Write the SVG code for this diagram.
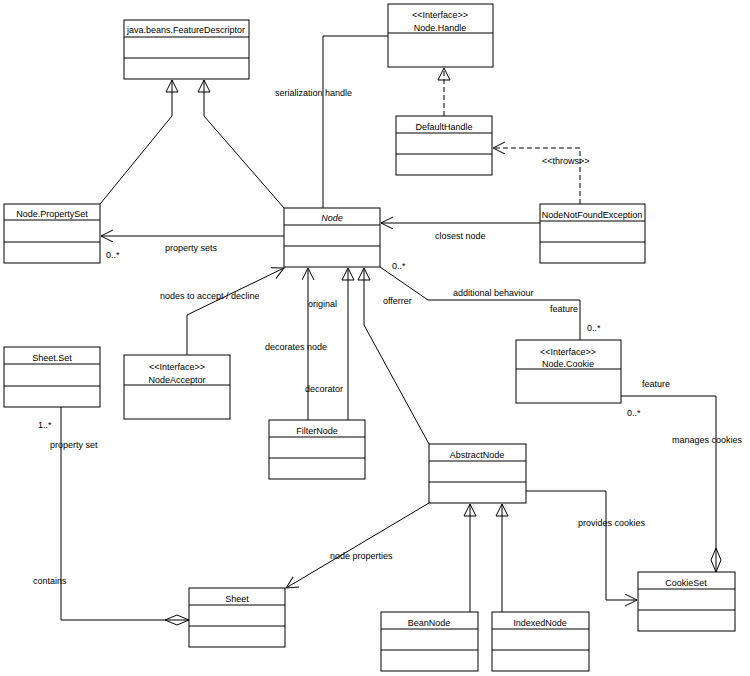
<svg xmlns="http://www.w3.org/2000/svg" width="750" height="676" viewBox="0 0 750 676">
<style>
rect{fill:#fff;stroke:#000;stroke-width:1}
line,path,polyline{fill:none;stroke:#000;stroke-width:1}
.d{stroke-dasharray:5,3}
.tri{fill:#fff;stroke:#000}
text{font-family:"Liberation Sans",Arial,sans-serif;font-size:9px;fill:#000}
.c{text-anchor:middle}
</style>
<defs>
<marker id="open" markerWidth="14" markerHeight="14" refX="12" refY="6" orient="auto" markerUnits="userSpaceOnUse"><path d="M0,0 L12,6 L0,12" fill="none" stroke="#000"/></marker>
<marker id="gen" markerWidth="16" markerHeight="16" refX="13" refY="7" orient="auto" markerUnits="userSpaceOnUse"><path d="M1,1 L13,7 L1,13 Z" fill="#fff" stroke="#000"/></marker>
<marker id="dia" markerWidth="26" markerHeight="12" refX="24" refY="6" orient="auto" markerUnits="userSpaceOnUse"><path d="M0,6 L12,1 L24,6 L12,11 Z" fill="#fff" stroke="#000"/></marker>
</defs>
<g id="connectors">
<polyline points="100,204 172,116 172,80" marker-end="url(#gen)"/>
<polyline points="284,208 204,116 204,80" marker-end="url(#gen)"/>
<line x1="284" y1="236" x2="101" y2="236" marker-end="url(#open)"/>
<polyline points="323,208 323,36 388,36"/>
<line class="d" x1="444" y1="116" x2="444" y2="68" marker-end="url(#gen)"/>
<polyline class="d" points="580,204 580,148 493,148" marker-end="url(#open)"/>
<line x1="540" y1="223" x2="381" y2="223" marker-end="url(#open)"/>
<polyline points="380,267 428,300 580,300 580,340"/>
<polyline points="187,355 187,315 284,268" marker-end="url(#open)"/>
<line x1="308" y1="420" x2="308" y2="268" marker-end="url(#open)"/>
<line x1="348" y1="420" x2="348" y2="268" marker-end="url(#gen)"/>
<polyline points="429,444 364,325 364,268" marker-end="url(#gen)"/>
<line x1="429" y1="503" x2="286" y2="588" marker-end="url(#open)"/>
<line x1="470" y1="612" x2="470" y2="504" marker-end="url(#gen)"/>
<line x1="502" y1="612" x2="502" y2="504" marker-end="url(#gen)"/>
<polyline points="526,491 606,491 606,600 637,600" marker-end="url(#open)"/>
<polyline points="621,396 716,396 716,572" marker-end="url(#dia)"/>
<polyline points="61,407 61,620 189,620" marker-end="url(#dia)"/>
</g>
<g id="labels">
<text x="165" y="251">property sets</text>
<text x="106" y="258">0..*</text>
<text x="275" y="96">serialization handle</text>
<text x="542" y="164">&lt;&lt;throws&gt;&gt;</text>
<text x="435" y="239">closest node</text>
<text x="392" y="269">0..*</text>
<text x="453" y="296">additional behaviour</text>
<text x="550" y="312">feature</text>
<text x="587" y="331">0..*</text>
<text x="383" y="304">offerrer</text>
<text x="160" y="299">nodes to accept / decline</text>
<text x="308" y="307">original</text>
<text x="265" y="350">decorates node</text>
<text x="305" y="392">decorator</text>
<text x="330" y="559">node properties</text>
<text x="578" y="526">provides cookies</text>
<text x="642" y="387">feature</text>
<text x="627" y="416">0..*</text>
<text x="672" y="443">manages cookies</text>
<text x="38" y="428">1..*</text>
<text x="50" y="448">property set</text>
<text x="33" y="584">contains</text>
</g>
<g id="FeatureDescriptor"><rect x="124" y="20" width="125" height="59"/><line x1="124" y1="37" x2="249" y2="37"/><line x1="124" y1="58" x2="249" y2="58"/><text class="c" x="186" y="33">java.beans.FeatureDescriptor</text></g>
<g id="PropertySet"><rect x="4" y="204" width="96" height="59"/><line x1="4" y1="220" x2="100" y2="220"/><line x1="4" y1="242" x2="100" y2="242"/><text class="c" x="52" y="217">Node.PropertySet</text></g>
<g id="Node"><rect x="284" y="208" width="96" height="59"/><line x1="284" y1="225" x2="380" y2="225"/><line x1="284" y1="246" x2="380" y2="246"/><text class="c" x="332" y="221" font-style="italic">Node</text></g>
<g id="NodeHandle"><rect x="388" y="4" width="105" height="63"/><line x1="388" y1="33" x2="493" y2="33"/><text class="c" x="440" y="18">&lt;&lt;Interface&gt;&gt;</text><text class="c" x="440" y="31">Node.Handle</text></g>
<g id="DefaultHandle"><rect x="396" y="116" width="96" height="59"/><line x1="396" y1="133" x2="492" y2="133"/><line x1="396" y1="154" x2="492" y2="154"/><text class="c" x="444" y="130">DefaultHandle</text></g>
<g id="NodeNotFoundException"><rect x="540" y="204" width="105" height="59"/><line x1="540" y1="221" x2="645" y2="221"/><line x1="540" y1="242" x2="645" y2="242"/><text class="c" x="592" y="218">NodeNotFoundException</text></g>
<g id="NodeCookie"><rect x="516" y="340" width="105" height="63"/><line x1="516" y1="369" x2="621" y2="369"/><text class="c" x="568" y="355">&lt;&lt;Interface&gt;&gt;</text><text class="c" x="568" y="367">Node.Cookie</text></g>
<g id="SheetSet"><rect x="4" y="347" width="96" height="60"/><line x1="4" y1="364" x2="100" y2="364"/><line x1="4" y1="386" x2="100" y2="386"/><text class="c" x="52" y="361">Sheet.Set</text></g>
<g id="NodeAcceptor"><rect x="124" y="355" width="106" height="64"/><line x1="124" y1="385" x2="230" y2="385"/><text class="c" x="177" y="370">&lt;&lt;Interface&gt;&gt;</text><text class="c" x="177" y="383">NodeAcceptor</text></g>
<g id="FilterNode"><rect x="269" y="420" width="96" height="59"/><line x1="269" y1="437" x2="365" y2="437"/><line x1="269" y1="458" x2="365" y2="458"/><text class="c" x="317" y="434">FilterNode</text></g>
<g id="AbstractNode"><rect x="429" y="444" width="97" height="59"/><line x1="429" y1="461" x2="526" y2="461"/><line x1="429" y1="482" x2="526" y2="482"/><text class="c" x="477" y="458">AbstractNode</text></g>
<g id="Sheet"><rect x="189" y="588" width="96" height="59"/><line x1="189" y1="605" x2="285" y2="605"/><line x1="189" y1="626" x2="285" y2="626"/><text class="c" x="237" y="602">Sheet</text></g>
<g id="BeanNode"><rect x="381" y="612" width="97" height="59"/><line x1="381" y1="629" x2="478" y2="629"/><line x1="381" y1="650" x2="478" y2="650"/><text class="c" x="429" y="626">BeanNode</text></g>
<g id="IndexedNode"><rect x="492" y="612" width="97" height="59"/><line x1="492" y1="629" x2="589" y2="629"/><line x1="492" y1="650" x2="589" y2="650"/><text class="c" x="540" y="626">IndexedNode</text></g>
<g id="CookieSet"><rect x="638" y="572" width="97" height="59"/><line x1="638" y1="589" x2="735" y2="589"/><line x1="638" y1="610" x2="735" y2="610"/><text class="c" x="686" y="586">CookieSet</text></g>
</svg>
